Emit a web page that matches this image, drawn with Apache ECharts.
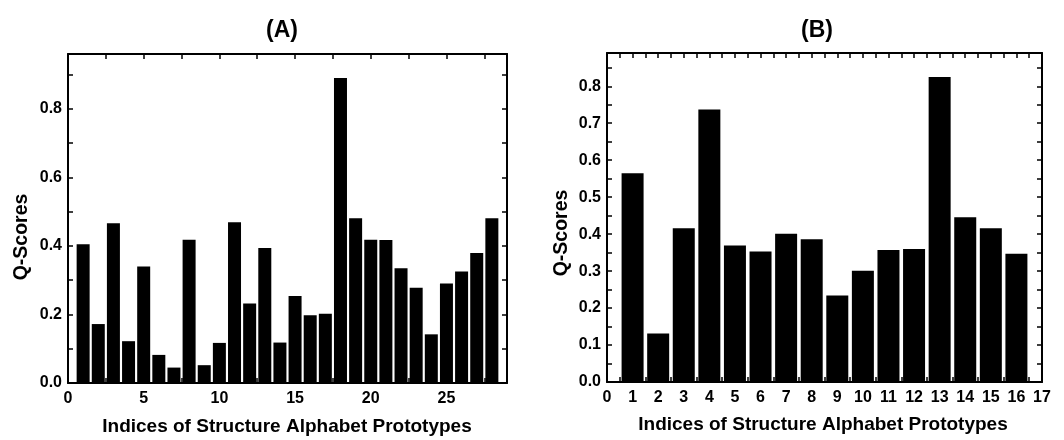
<!DOCTYPE html>
<html>
<head>
<meta charset="utf-8">
<script src="https://cdn.jsdelivr.net/npm/echarts@6/dist/echarts.min.js"></script>
<style>html,body{margin:0;padding:0;background:#fff;}#c{width:1064px;height:440px;}</style>
</head>
<body>
<div id="c"></div>
<script>
// ---- data ----
const titleA = '(A)';
const titleB = '(B)';
const xName = 'Indices of Structure Alphabet Prototypes';
const yName = 'Q-Scores';
const indicesA = [1,2,3,4,5,6,7,8,9,10,11,12,13,14,15,16,17,18,19,20,21,22,23,24,25,26,27,28];
const scoresA = [0.405,0.172,0.466,0.122,0.340,0.082,0.045,0.418,0.052,0.117,0.469,0.232,0.394,0.118,0.254,0.198,0.202,0.890,0.481,0.418,0.417,0.335,0.278,0.142,0.290,0.325,0.379,0.481];
const indicesB = [1,2,3,4,5,6,7,8,9,10,11,12,13,14,15,16];
const scoresB = [0.565,0.131,0.416,0.737,0.369,0.353,0.401,0.386,0.234,0.301,0.357,0.360,0.825,0.446,0.416,0.347];
const xTicksA = [0,5,10,15,20,25];
const yTicksA = [0.0,0.2,0.4,0.6,0.8];
const xTicksB = [0,1,2,3,4,5,6,7,8,9,10,11,12,13,14,15,16,17];
const yTicksB = [0.0,0.1,0.2,0.3,0.4,0.5,0.6,0.7,0.8];

const FONT = '"Liberation Sans", Arial, sans-serif';
const chart = echarts.init(document.getElementById('c'), null, {renderer: 'canvas'});

function isIn(list, v) { return list.some(t => Math.abs(t - v) < 1e-6); }

function axisPair(gridIndex, kind, min, max, step, majors, digits, pos) {
  const base = {
    type: 'value', gridIndex, min, max, interval: step,
    splitLine: {show: false},
    axisLine: {show: true, onZero: false, lineStyle: {color: '#000', width: 2}},
    axisTick: {show: true, inside: true, length: 5, lineStyle: {color: '#000', width: 1.5}},
  };
  const main = Object.assign({}, base, {
    position: pos[0],
    axisLabel: {
      show: true, color: '#000', fontFamily: FONT, fontWeight: 'bold', fontSize: 16,
      margin: kind === 'x' ? 8 : 6,
      showMaxLabel: true,
      formatter: v => isIn(majors, v) ? v.toFixed(digits) : ''
    }
  });
  const other = Object.assign({}, base, {position: pos[1], axisLabel: {show: false}});
  return [main, other];
}

const xA = axisPair(0, 'x', 0, 29, 2.5, xTicksA, 0, ['bottom', 'top']);
const yA = axisPair(0, 'y', 0, 0.96, 0.1, yTicksA, 1, ['left', 'right']);
const xB = axisPair(1, 'x', 0, 17, 0.5, xTicksB, 0, ['bottom', 'top']);
const yB = axisPair(1, 'y', 0, 0.89, 0.05, yTicksB, 1, ['left', 'right']);

const option = {
  backgroundColor: '#fff',
  animation: false,
  title: [
    {text: titleA, left: 277, top: 14, textAlign: 'center',
     textStyle: {fontFamily: FONT, fontWeight: 'bold', fontSize: 23, color: '#000'}},
    {text: titleB, left: 812, top: 14, textAlign: 'center',
     textStyle: {fontFamily: FONT, fontWeight: 'bold', fontSize: 23, color: '#000'}}
  ],
  grid: [
    {left: 68, top: 54, width: 439, height: 329},
    {left: 607, top: 53, width: 435, height: 329}
  ],
  xAxis: [xA[0], xA[1], xB[0], xB[1]],
  yAxis: [yA[0], yA[1], yB[0], yB[1]],
  graphic: [
    {type: 'text', x: 22, y: 237, rotation: Math.PI / 2,
     style: {text: yName, fontFamily: FONT, fontWeight: 'bold', fontSize: 19.5, fill: '#000', align: 'center', verticalAlign: 'middle'}},
    {type: 'text', x: 562, y: 233, rotation: Math.PI / 2,
     style: {text: yName, fontFamily: FONT, fontWeight: 'bold', fontSize: 19.5, fill: '#000', align: 'center', verticalAlign: 'middle'}},
    {type: 'text', x: 287, y: 427,
     style: {text: xName, fontFamily: FONT, fontWeight: 'bold', fontSize: 19, fill: '#000', align: 'center', verticalAlign: 'middle'}},
    {type: 'text', x: 823, y: 425,
     style: {text: xName, fontFamily: FONT, fontWeight: 'bold', fontSize: 19, fill: '#000', align: 'center', verticalAlign: 'middle'}}
  ],
  series: [
    {type: 'bar', xAxisIndex: 0, yAxisIndex: 0, barWidth: 13,
     itemStyle: {color: '#000'},
     data: indicesA.map((x, i) => [x, scoresA[i]])},
    {type: 'bar', xAxisIndex: 2, yAxisIndex: 2, barWidth: 22,
     itemStyle: {color: '#000'},
     data: indicesB.map((x, i) => [x, scoresB[i]])}
  ]
};
chart.setOption(option);
</script>
</body>
</html>
